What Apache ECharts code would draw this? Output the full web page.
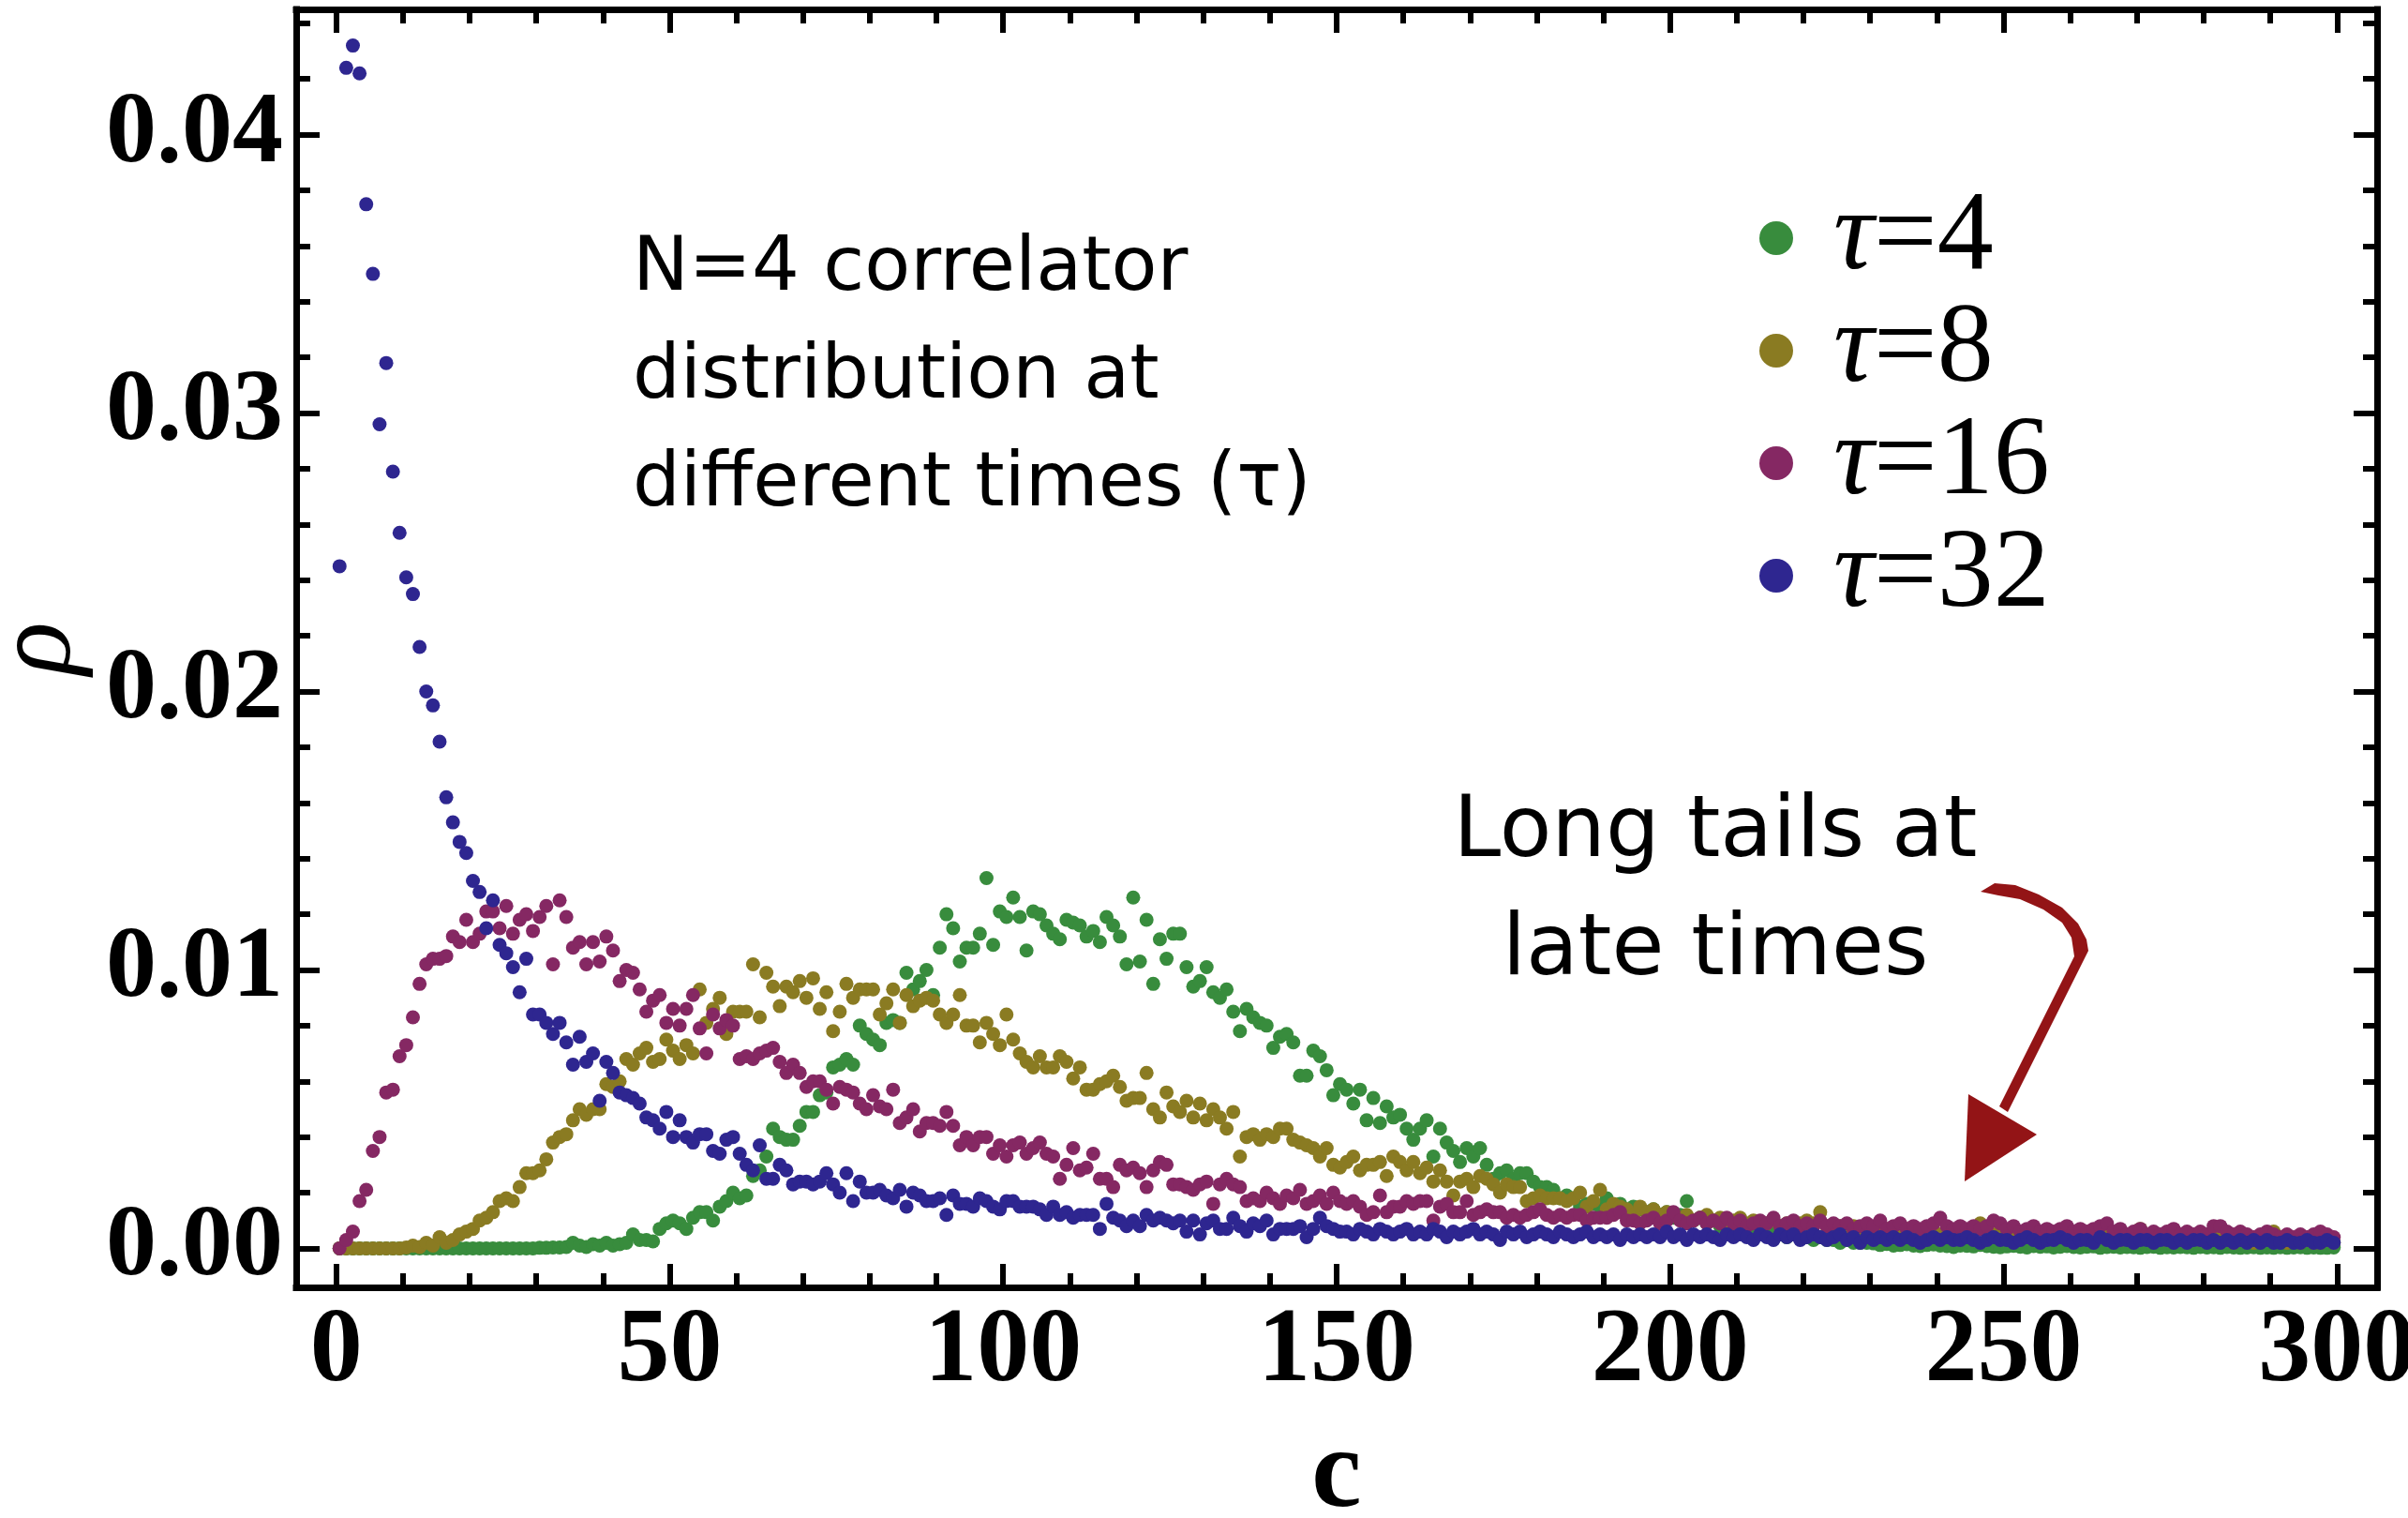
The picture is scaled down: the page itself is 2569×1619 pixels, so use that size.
<!DOCTYPE html>
<html>
<head>
<meta charset="utf-8">
<title>N=4 correlator distribution</title>
<script src="https://cdn.jsdelivr.net/npm/echarts@6/dist/echarts.min.js"></script>
<style>
  html, body { margin: 0; padding: 0; background: #fff; }
  #chart { width: 2569px; height: 1619px; }
</style>
</head>
<body>
<div id="chart"></div>
<script>
// histogram of rho(c), one value per unit-wide bin of c starting at 0
const binStart = 0
const binWidth = 1

const tau4 = [
  0, 0, 0, 0, 0, 0, 0, 0, 0, 0,
  0, 0, 0, 0, 0, 0, 0, 0, 0, 0,
  0, 0, 0, 0, 0, 0, 0, 0, 0, 0,
  0.00002, 0.00002, 0.00003, 0.00003, 0.00005, 0.0002, 0.0001, 0.00005, 0.00015, 0.0001,
  0.0002, 0.0001, 0.00015, 0.0002, 0.0005, 0.0003, 0.0003, 0.00025, 0.0007, 0.0009,
  0.0010, 0.0009, 0.0007, 0.0011, 0.0013, 0.0013, 0.0010, 0.0015, 0.0017, 0.0020,
  0.0018, 0.0019, 0.0026, 0.0028, 0.0033, 0.0043, 0.0040, 0.0039, 0.0039, 0.0044,
  0.0049, 0.0049, 0.0055, 0.0056, 0.0065, 0.0066, 0.0068, 0.0066, 0.0080, 0.0077,
  0.0075, 0.0073, 0.0081, 0.0082, 0.0081, 0.0099, 0.0093, 0.0096, 0.0100, 0.0091,
  0.0108, 0.0120, 0.0115, 0.0103, 0.0108, 0.0108, 0.0113, 0.0133, 0.0109, 0.0121,
  0.0119, 0.0126, 0.0119, 0.0107, 0.0121, 0.0120, 0.0116, 0.0113, 0.0111, 0.0118,
  0.0117, 0.0116, 0.0112, 0.0114, 0.0110, 0.0119, 0.0116, 0.0112, 0.0102, 0.0126,
  0.0103, 0.0118, 0.0095, 0.0111, 0.0104, 0.0113, 0.0113, 0.0101, 0.0094, 0.0096,
  0.0101, 0.0092, 0.0090, 0.0093, 0.0085, 0.0078, 0.0086, 0.0083, 0.0081, 0.0080,
  0.0072, 0.0076, 0.0077, 0.0074, 0.0062, 0.0062, 0.0071, 0.0069, 0.0064, 0.0055,
  0.0059, 0.0057, 0.0052, 0.0057, 0.0046, 0.0054, 0.0045, 0.0051, 0.0047, 0.0048,
  0.0043, 0.0039, 0.0043, 0.0046, 0.0033, 0.0043, 0.0038, 0.0035, 0.0031, 0.0036,
  0.0033, 0.0036, 0.0030, 0.0025, 0.0027, 0.0028, 0.0025, 0.0027, 0.0027, 0.0024,
  0.0022, 0.0022, 0.0021, 0.0018, 0.0019, 0.0018, 0.0015, 0.0016, 0.0016, 0.0015,
  0.0018, 0.0015, 0.0016, 0.0014, 0.0015, 0.0014, 0.0013, 0.0014, 0.0012, 0.0013,
  0.0011, 0.0012, 0.0017, 0.0010, 0.0011, 0.0009, 0.0010, 0.0008, 0.0009, 0.0007,
  0.0008, 0.0007, 0.0006, 0.0007, 0.0005, 0.0006, 0.0005, 0.0004, 0.0005, 0.0004,
  0.0004, 0.0003, 0.0004, 0.0003, 0.0003, 0.0002, 0.0003, 0.0002, 0.0002, 0.0002,
  0.00018, 0.00012, 0.00016, 0.0001, 0.00012, 0.00015, 0.0001, 0.00008, 0.00012, 0.00014,
  0.0001, 0.00008, 0.00005, 0.0001, 0.00009, 0.00007, 0.00012, 0.00008, 0.00006, 0.00004,
  0.00007, 0.00009, 0.00006, 0.00003, 0.00008, 0.00006, 0.00007, 0.00003, 0.00006, 0.00008,
  0.00005, 0.00003, 0.00006, 0.00007, 0.00002, 0.00005, 0.00006, 0.00003, 0.00005, 0.00004,
  0.00002, 0.00005, 0.00006, 0.00002, 0.00004, 0.00003, 0.00005, 0.00004, 0.00002, 0.00005,
  0.00003, 0.00004, 0.00002, 0.00005, 0.00003, 0.00002, 0.00003, 0.00004, 0.00002, 0.00003,
  0.00002, 0.00004, 0.00002, 0.00003, 0.00004, 0.00002, 0.00003, 0.00002, 0.00002, 0.00003
]

const tau8 = [
  0, 0, 0, 0, 0, 0, 0, 0, 0, 0,
  0.00003, 0.0001, 0.00005, 0.0002, 0.0001, 0.0004, 0.0002, 0.0003, 0.0005, 0.0006,
  0.0007, 0.0010, 0.0011, 0.0013, 0.0017, 0.0018, 0.0017, 0.0022, 0.0027, 0.0027,
  0.0028, 0.0032, 0.0038, 0.0040, 0.0041, 0.0046, 0.0050, 0.0048, 0.0050, 0.0050,
  0.0059, 0.0058, 0.0060, 0.0068, 0.0066, 0.0070, 0.0072, 0.0067, 0.0068, 0.0075,
  0.0071, 0.0068, 0.0073, 0.0070, 0.0093, 0.0081, 0.0086, 0.0090, 0.0077, 0.0085,
  0.0085, 0.0085, 0.0102, 0.0083, 0.0099, 0.0094, 0.0087, 0.0094, 0.0092, 0.0096,
  0.0090, 0.0097, 0.0086, 0.0092, 0.0078, 0.0085, 0.0095, 0.0090, 0.0093, 0.0093,
  0.0093, 0.0084, 0.0088, 0.0093, 0.0081, 0.0091, 0.0087, 0.0089, 0.0090, 0.0089,
  0.0084, 0.0081, 0.0084, 0.0091, 0.0080, 0.0080, 0.0074, 0.0081, 0.0077, 0.0073,
  0.0084, 0.0075, 0.0070, 0.0067, 0.0065, 0.0069, 0.0065, 0.0065, 0.0069, 0.0067,
  0.0061, 0.0065, 0.0057, 0.0057, 0.0059, 0.0060, 0.0062, 0.0058, 0.0053, 0.0054,
  0.0054, 0.0063, 0.0050, 0.0047, 0.0056, 0.0051, 0.0049, 0.0053, 0.0047, 0.0052,
  0.0046, 0.0050, 0.0047, 0.0043, 0.0049, 0.0033, 0.0040, 0.0041, 0.0039, 0.0041,
  0.0040, 0.0043, 0.0043, 0.0039, 0.0038, 0.0037, 0.0036, 0.0033, 0.0036, 0.0030,
  0.0029, 0.0031, 0.0033, 0.0028, 0.0030, 0.0030, 0.0031, 0.0026, 0.0033, 0.0031,
  0.0028, 0.0031, 0.0027, 0.0029, 0.0024, 0.0028, 0.0024, 0.0019, 0.0024, 0.0025,
  0.0022, 0.0026, 0.0025, 0.0023, 0.0020, 0.0023, 0.0022, 0.0022, 0.0017, 0.0018,
  0.0019, 0.0018, 0.0018, 0.0018, 0.0017, 0.0018, 0.0020, 0.0015, 0.0017, 0.0021,
  0.0014, 0.0016, 0.0015, 0.0014, 0.0012, 0.0015, 0.0013, 0.0014, 0.0012, 0.0013,
  0.0012, 0.0011, 0.0012, 0.0010, 0.0011, 0.0012, 0.0010, 0.0011, 0.0009, 0.0010,
  0.0011, 0.0009, 0.0010, 0.0008, 0.0009, 0.0010, 0.0008, 0.0009, 0.0008, 0.0009,
  0.0010, 0.0009, 0.0013, 0.0008, 0.0007, 0.0008, 0.0007, 0.0008, 0.0007, 0.0006,
  0.0007, 0.0006, 0.0007, 0.0005, 0.0006, 0.0007, 0.0005, 0.0006, 0.0005, 0.0006,
  0.0005, 0.0006, 0.0005, 0.0006, 0.0005, 0.0007, 0.0009, 0.0006, 0.0005, 0.0006,
  0.0004, 0.0005, 0.0005, 0.0004, 0.0005, 0.0004, 0.0005, 0.0004, 0.0005, 0.0004,
  0.0004, 0.0005, 0.0004, 0.0003, 0.0004, 0.0005, 0.0004, 0.0003, 0.0004, 0.0005,
  0.0007, 0.0004, 0.0003, 0.0004, 0.0003, 0.0004, 0.0003, 0.0003, 0.0004, 0.0003,
  0.0003, 0.0004, 0.0003, 0.0003, 0.0002, 0.0003, 0.0003, 0.0002, 0.0003, 0.0004,
  0.0006, 0.0003, 0.0002, 0.0003, 0.0002, 0.0003, 0.0002, 0.0002, 0.0003, 0.0002
]

const tau16 = [
  0.0000, 0.0003, 0.0006, 0.0017, 0.0021, 0.0035, 0.0040, 0.0056, 0.0057, 0.0069,
  0.0073, 0.0083, 0.0095, 0.0102, 0.0104, 0.0104, 0.0105, 0.0112, 0.0110, 0.0118,
  0.0110, 0.0113, 0.0121, 0.0121, 0.0115, 0.0123, 0.0113, 0.0118, 0.0120, 0.0114,
  0.0119, 0.0123, 0.0102, 0.0125, 0.0119, 0.0108, 0.0110, 0.0102, 0.0110, 0.0103,
  0.0112, 0.0107, 0.0096, 0.0100, 0.0099, 0.0093, 0.0085, 0.0089, 0.0091, 0.0081,
  0.0086, 0.0080, 0.0086, 0.0091, 0.0079, 0.0070, 0.0084, 0.0079, 0.0082, 0.0080,
  0.0068, 0.0069, 0.0068, 0.0070, 0.0071, 0.0072, 0.0067, 0.0063, 0.0066, 0.0063,
  0.0058, 0.0060, 0.0060, 0.0057, 0.0052, 0.0058, 0.0057, 0.0056, 0.0052, 0.0050,
  0.0055, 0.0051, 0.0050, 0.0057, 0.0045, 0.0047, 0.0050, 0.0042, 0.0045, 0.0045,
  0.0044, 0.0049, 0.0044, 0.0037, 0.0040, 0.0037, 0.0040, 0.0040, 0.0034, 0.0037,
  0.0033, 0.0037, 0.0038, 0.0034, 0.0036, 0.0038, 0.0034, 0.0033, 0.0025, 0.0030,
  0.0036, 0.0028, 0.0029, 0.0034, 0.0025, 0.0025, 0.0022, 0.0030, 0.0028, 0.0029,
  0.0027, 0.0022, 0.0028, 0.0031, 0.0030, 0.0023, 0.0023, 0.0022, 0.0021, 0.0023,
  0.0024, 0.0016, 0.0023, 0.0025, 0.0023, 0.0022, 0.0017, 0.0018, 0.0017, 0.0020,
  0.0018, 0.0016, 0.0019, 0.0018, 0.0021, 0.0016, 0.0017, 0.0019, 0.0016, 0.0020,
  0.0017, 0.0016, 0.0017, 0.0015, 0.0012, 0.0013, 0.0019, 0.0013, 0.0015, 0.0015,
  0.0017, 0.0016, 0.0017, 0.0017, 0.0010, 0.0015, 0.0016, 0.0013, 0.0013, 0.0017,
  0.0012, 0.0013, 0.0014, 0.0013, 0.0013, 0.0011, 0.0012, 0.0011, 0.0012, 0.0013,
  0.0014, 0.0012, 0.0011, 0.0012, 0.0011, 0.0012, 0.0012, 0.0010, 0.0011, 0.0011,
  0.0011, 0.0012, 0.0013, 0.0010, 0.0010, 0.0009, 0.0010, 0.0011, 0.0009, 0.0010,
  0.0013, 0.0010, 0.0009, 0.0010, 0.0011, 0.0009, 0.0010, 0.0009, 0.0011, 0.0009,
  0.0010, 0.0008, 0.0009, 0.0010, 0.0009, 0.0011, 0.0008, 0.0009, 0.0010, 0.0008,
  0.0009, 0.0008, 0.0010, 0.0008, 0.0009, 0.0008, 0.0009, 0.0007, 0.0008, 0.0009,
  0.0008, 0.0010, 0.0007, 0.0008, 0.0009, 0.0007, 0.0008, 0.0007, 0.0008, 0.0009,
  0.0011, 0.0008, 0.0007, 0.0008, 0.0007, 0.0008, 0.0007, 0.0008, 0.0010, 0.0009,
  0.0007, 0.0008, 0.0006, 0.0007, 0.0008, 0.0006, 0.0007, 0.0006, 0.0007, 0.0008,
  0.0006, 0.0007, 0.0006, 0.0007, 0.0008, 0.0009, 0.0006, 0.0007, 0.0005, 0.0006,
  0.0007, 0.0005, 0.0006, 0.0005, 0.0006, 0.0007, 0.0005, 0.0006, 0.0005, 0.0006,
  0.0005, 0.0008, 0.0008, 0.0006, 0.0005, 0.0006, 0.0005, 0.0004, 0.0005, 0.0006,
  0.0005, 0.0004, 0.0005, 0.0004, 0.0005, 0.0004, 0.0005, 0.0006, 0.0005, 0.0004
]

const tau32 = [
  0.0245, 0.0424, 0.0432, 0.0422, 0.0375, 0.0350, 0.0296, 0.0318, 0.0279, 0.0257,
  0.0241, 0.0235, 0.0216, 0.0200, 0.0195, 0.0182, 0.0162, 0.0153, 0.0146, 0.0142,
  0.0132, 0.0128, 0.0115, 0.0125, 0.0109, 0.0106, 0.0101, 0.0092, 0.0104, 0.0084,
  0.0084, 0.0081, 0.0077, 0.0081, 0.0074, 0.0066, 0.0076, 0.0067, 0.0070, 0.0053,
  0.0067, 0.0063, 0.0056, 0.0055, 0.0054, 0.0052, 0.0047, 0.0046, 0.0043, 0.0049,
  0.0040, 0.0046, 0.0040, 0.0038, 0.0041, 0.0041, 0.0035, 0.0034, 0.0039, 0.0040,
  0.0034, 0.0030, 0.0028, 0.0037, 0.0025, 0.0025, 0.0030, 0.0028, 0.0023, 0.0024,
  0.0024, 0.0023, 0.0024, 0.0027, 0.0023, 0.0020, 0.0027, 0.0017, 0.0024, 0.0020,
  0.0020, 0.0021, 0.0019, 0.0018, 0.0021, 0.0015, 0.0020, 0.0019, 0.0017, 0.0017,
  0.0018, 0.0012, 0.0019, 0.0016, 0.0016, 0.0015, 0.0018, 0.0017, 0.0015, 0.0014,
  0.0017, 0.0017, 0.0015, 0.0015, 0.0015, 0.0014, 0.0012, 0.0015, 0.0012, 0.0013,
  0.0011, 0.0012, 0.0012, 0.0012, 0.0007, 0.0016, 0.0011, 0.0010, 0.0008, 0.0010,
  0.0008, 0.0012, 0.0010, 0.0011, 0.0010, 0.0009, 0.0010, 0.0006, 0.0010, 0.0005,
  0.0009, 0.0010, 0.0007, 0.0007, 0.0011, 0.0008, 0.0006, 0.0009, 0.0008, 0.0010,
  0.0005, 0.0007, 0.0007, 0.0007, 0.0008, 0.0004, 0.0007, 0.0011, 0.0008, 0.0007,
  0.0006, 0.0006, 0.0005, 0.0007, 0.0006, 0.0005, 0.0007, 0.0006, 0.0005, 0.0006,
  0.0007, 0.0005, 0.0006, 0.0005, 0.0007, 0.0006, 0.0004, 0.0006, 0.0005, 0.0006,
  0.0007, 0.0005, 0.0006, 0.0005, 0.0003, 0.0006, 0.0005, 0.0006, 0.0004, 0.0005,
  0.0006, 0.0005, 0.0004, 0.0006, 0.0005, 0.0004, 0.0005, 0.0006, 0.0004, 0.0005,
  0.0004, 0.0005, 0.0003, 0.0005, 0.0004, 0.0005, 0.0004, 0.0005, 0.0004, 0.0006,
  0.0004, 0.0005, 0.0003, 0.0005, 0.0004, 0.0005, 0.0004, 0.0003, 0.0005, 0.0004,
  0.0005, 0.0004, 0.0003, 0.0005, 0.0004, 0.0003, 0.0005, 0.0004, 0.0005, 0.0003,
  0.0004, 0.0005, 0.0004, 0.0003, 0.0004, 0.0005, 0.0003, 0.0004, 0.0002, 0.0004,
  0.0003, 0.0004, 0.0003, 0.0004, 0.0003, 0.0004, 0.0003, 0.0002, 0.0003, 0.0004,
  0.0003, 0.0004, 0.0003, 0.0003, 0.0004, 0.0003, 0.0002, 0.0003, 0.0004, 0.0003,
  0.0003, 0.0002, 0.0003, 0.0004, 0.0003, 0.0002, 0.0003, 0.0003, 0.0004, 0.0003,
  0.0002, 0.0003, 0.0003, 0.0002, 0.0004, 0.0003, 0.0002, 0.0003, 0.0003, 0.0002,
  0.0003, 0.0003, 0.0002, 0.0003, 0.0003, 0.0002, 0.0003, 0.0002, 0.0003, 0.0003,
  0.0002, 0.0003, 0.0002, 0.0003, 0.0002, 0.0003, 0.0002, 0.0003, 0.0002, 0.0003,
  0.0002, 0.0002, 0.0003, 0.0002, 0.0002, 0.0003, 0.0002, 0.0002, 0.0003, 0.0002
]

const seriesNames = ['τ=4', 'τ=8', 'τ=16', 'τ=32']
const seriesValues = [tau4, tau8, tau16, tau32]
const colors = ['#388c3d', '#8a7b22', '#852863', '#2e2690']

const xMajor = [0, 50, 100, 150, 200, 250, 300]
const xMinor = [10, 20, 30, 40, 60, 70, 80, 90, 110, 120, 130, 140,
  160, 170, 180, 190, 210, 220, 230, 240, 260, 270, 280, 290]
const yMajor = [0, 0.01, 0.02, 0.03, 0.04]
const yMinor = [0.002, 0.004, 0.006, 0.008, 0.012, 0.014, 0.016, 0.018,
  0.022, 0.024, 0.026, 0.028, 0.032, 0.034, 0.036, 0.038, 0.042, 0.044]

const xRange = [-6, 306]
const yRange = [-0.0014, 0.0445]

const chart = echarts.init(document.getElementById('chart'))

const labelFont = {
  fontFamily: 'Liberation Serif',
  fontWeight: 'bold',
  color: '#000'
}

// one axis = one side of the frame, or one set of ticks on it
function frameAxis(position, range, ticks, tickLen, opts = {}) {
  return {
    type: 'value',
    position,
    min: range[0],
    max: range[1],
    axisLine: {
      show: !!opts.line,
      onZero: false,
      lineStyle: { color: '#000', width: 7, cap: 'square' }
    },
    axisTick: {
      show: true,
      inside: true,
      length: tickLen,
      customValues: ticks,
      lineStyle: { color: '#000', width: 6 }
    },
    axisLabel: opts.labels
      ? Object.assign({
          customValues: ticks, margin: opts.margin,
          fontSize: opts.fontSize, formatter: opts.formatter
        }, labelFont)
      : { show: false },
    splitLine: { show: false },
    name: opts.name,
    nameLocation: 'middle',
    nameGap: opts.nameGap,
    nameRotate: opts.nameRotate,
    nameTextStyle: opts.nameStyle
  }
}

// curved brush-stroke arrow shaft (outline points, pixels)
const arrowShaft = [
  [2113, 951], [2128, 942], [2150, 944], [2175, 954], [2200, 968], [2217, 985],
  [2226, 1002], [2228, 1014], [2142, 1186], [2133, 1180], [2213, 1020],
  [2210, 1000], [2200, 984], [2180, 970], [2155, 959], [2132, 955]
]
const arrowHead = [[2100, 1167], [2173, 1210], [2096, 1260]]

const option = {
  backgroundColor: '#fff',
  animation: false,
  grid: { left: 316, right: 33, top: 10, bottom: 246, outerBoundsMode: 'none', containLabel: false },
  xAxis: [
    frameAxis('bottom', xRange, xMajor, 25, {
      line: true, labels: true, margin: 14, fontSize: 112,
      formatter: v => String(v),
      name: 'c', nameGap: 142,
      nameStyle: { fontFamily: 'Liberation Serif', fontWeight: 'bold', fontSize: 120, color: '#000' }
    }),
    frameAxis('bottom', xRange, xMinor, 15),
    frameAxis('top', xRange, xMajor, 25, { line: true }),
    frameAxis('top', xRange, xMinor, 15)
  ],
  yAxis: [
    frameAxis('left', yRange, yMajor, 25, {
      line: true, labels: true, margin: 14, fontSize: 108,
      formatter: v => v.toFixed(2),
      name: 'ρ', nameGap: 202, nameRotate: 90,
      nameStyle: { fontFamily: 'Liberation Serif', fontStyle: 'italic', fontSize: 118, color: '#000' }
    }),
    frameAxis('left', yRange, yMinor, 15),
    frameAxis('right', yRange, yMajor, 25, { line: true }),
    frameAxis('right', yRange, yMinor, 15)
  ],
  legend: {
    orient: 'vertical',
    left: 1877,
    top: 194,
    padding: 0,
    itemGap: 0,
    itemWidth: 36,
    itemHeight: 36,
    icon: 'circle',
    selectedMode: false,
    data: seriesNames,
    formatter: name => '{g|}{t|τ}{n|' + name.slice(1) + '}',
    textStyle: {
      lineHeight: 120,
      rich: {
        g: { width: 38 },
        t: { fontFamily: 'Liberation Serif', fontStyle: 'italic', fontSize: 120, color: '#000' },
        n: { fontFamily: 'Liberation Serif', fontSize: 120, color: '#000' }
      }
    }
  },
  graphic: [
    {
      type: 'text', x: 675, y: 231,
      style: {
        text: 'N=4 correlator\ndistribution at\ndifferent times (τ)',
        font: '80px "DejaVu Sans"', lineHeight: 115, fill: '#000',
        verticalAlign: 'top'
      }
    },
    {
      type: 'text', x: 1830, y: 826,
      style: {
        text: 'Long tails at\nlate times',
        font: '91px "DejaVu Sans"', lineHeight: 126, fill: '#000',
        align: 'center', verticalAlign: 'top'
      }
    },
    {
      type: 'polygon',
      shape: { points: arrowShaft },
      style: { fill: '#931416' }
    },
    {
      type: 'polygon',
      shape: { points: arrowHead },
      style: { fill: '#931416' }
    }
  ],
  series: seriesValues.map((vals, k) => ({
    name: seriesNames[k],
    type: 'scatter',
    xAxisIndex: 0,
    yAxisIndex: 0,
    symbol: 'circle',
    symbolSize: 15,
    silent: true,
    z: 2 + k,
    itemStyle: { color: colors[k], opacity: 1 },
    data: vals.map((v, i) => [binStart + (i + 0.5) * binWidth, v])
  }))
}

chart.setOption(option)

window.addEventListener('resize', () => {
  chart.resize()
})
</script>
</body>
</html>
